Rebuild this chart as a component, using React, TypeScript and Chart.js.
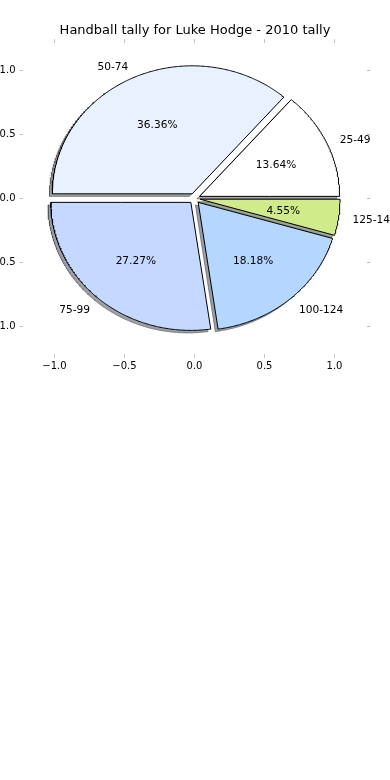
import React, { useEffect, useRef } from 'react';
import { Chart, registerables } from 'chart.js';

Chart.register(...registerables);

const title = 'Handball tally for Luke Hodge - 2010 tally';
const categories = ['25-49', '50-74', '75-99', '100-124', '125-149'];
const tallies = [3, 8, 6, 4, 1];
const sliceColors = ['#ffffff', '#eaf1fe', '#c5d8ff', '#b4d6ff', '#d0eb8a'];
const explode = [0.04, 0.04, 0.04, 0.04, 0.04];
const xTicks = [-1, -0.5, 0, 0.5, 1];
const yTicks = [-1, -0.5, 0, 0.5, 1];

const FONT = '"DejaVu Sans", sans-serif';
const total = tallies.reduce((a, b) => a + b, 0);

type Slice = { t1: number; t2: number; mid: number; cx: number; cy: number; frac: number };

function buildSlices(): Slice[] {
  let start = 0;
  return tallies.map((v, i) => {
    const sweep = (v / total) * 360;
    const t1 = start;
    const t2 = start + sweep;
    start = t2;
    const mid = ((t1 + t2) / 2) * Math.PI / 180;
    return { t1, t2, mid, cx: explode[i] * Math.cos(mid), cy: explode[i] * Math.sin(mid), frac: v / total };
  });
}

function wedgePoints(s: Slice, dx: number, dy: number) {
  const cx = s.cx + dx;
  const cy = s.cy + dy;
  const a1 = (s.t1 * Math.PI) / 180;
  const startPt = { x: cx + 0.5 * Math.cos(a1), y: cy + 0.5 * Math.sin(a1) };
  const pts = [startPt];
  const n = Math.max(2, Math.ceil((s.t2 - s.t1) / 0.5));
  for (let k = 0; k <= n; k++) {
    const a = ((s.t1 + ((s.t2 - s.t1) * k) / n) * Math.PI) / 180;
    pts.push({ x: cx + Math.cos(a), y: cy + Math.sin(a) });
  }
  pts.push({ x: cx, y: cy });
  pts.push({ ...startPt });
  return pts;
}

function hexToRgb(h: string) {
  const n = parseInt(h.slice(1), 16);
  return [(n >> 16) & 255, (n >> 8) & 255, n & 255];
}

function shadowColor(h: string) {
  const [r, g, b] = hexToRgb(h);
  return `rgba(${Math.round(r * 0.3)},${Math.round(g * 0.3)},${Math.round(b * 0.3)},0.5)`;
}

const fmt = (v: number) => {
  const s = Math.abs(v).toFixed(1);
  return v < 0 ? '\u2212' + s : s;
};

export default function App() {
  const ref = useRef<HTMLCanvasElement | null>(null);

  useEffect(() => {
    if (!ref.current) return;
    const slices = buildSlices();

    const shadowSets = slices.map((s, i) => ({
      data: wedgePoints(s, -0.02, -0.02),
      borderColor: shadowColor(sliceColors[i]),
      backgroundColor: shadowColor(sliceColors[i]),
      borderWidth: 1,
      fill: 'shape',
      pointRadius: 0,
      tension: 0,
      order: 1,
    }));
    const wedgeSets = slices.map((s, i) => ({
      label: categories[i],
      data: wedgePoints(s, 0, 0),
      borderColor: '#000000',
      backgroundColor: sliceColors[i],
      borderWidth: 1,
      fill: 'shape',
      pointRadius: 0,
      tension: 0,
      order: 0,
    }));

    const labelPlugin = {
      id: 'pieLabels',
      afterDatasetsDraw(chart: any) {
        const { ctx } = chart;
        const xs = chart.scales.x;
        const ys = chart.scales.y;
        ctx.save();
        ctx.font = `10.6px ${FONT}`;
        ctx.fillStyle = '#000000';
        ctx.textBaseline = 'middle';
        slices.forEach((s, i) => {
          const lx = s.cx + 1.1 * Math.cos(s.mid);
          const ly = s.cy + 1.1 * Math.sin(s.mid);
          const up = ly > 0 ? 2 : 1;
          ctx.textAlign = lx > 0 ? 'left' : 'right';
          ctx.fillText(categories[i], xs.getPixelForValue(lx), ys.getPixelForValue(ly) + up);
          const px = s.cx + 0.6 * Math.cos(s.mid);
          const py = s.cy + 0.6 * Math.sin(s.mid);
          ctx.textAlign = 'center';
          ctx.fillText((s.frac * 100).toFixed(2) + '%', xs.getPixelForValue(px), ys.getPixelForValue(py) + 1);
        });
        ctx.restore();
      },
    };

    const gridOpts = {
      drawOnChartArea: false,
      drawTicks: true,
      tickLength: 3.5,
      tickWidth: 1,
      color: '#c4c4c4',
    };
    const XMIN = -1.225, XMAX = 1.232, YMIN = -1.217, YMAX = 1.217;

    const chart = new Chart(ref.current, {
      type: 'line',
      data: { datasets: [...wedgeSets, ...shadowSets] as any },
      options: {
        animation: false,
        responsive: false,
        devicePixelRatio: 1,
        layout: { padding: 0 },
        plugins: {
          legend: { display: false },
          tooltip: { enabled: false },
          title: {
            display: true,
            text: title,
            color: '#000000',
            font: { family: FONT, size: 13, weight: 'normal' },
            padding: { top: 23, bottom: 0 },
          },
        },
        scales: {
          x: {
            type: 'linear',
            position: 'bottom',
            min: XMIN,
            max: XMAX,
            grid: gridOpts,
            border: { display: false },
            afterBuildTicks: (s: any) => { s.ticks = xTicks.map((v) => ({ value: v })); },
            afterFit: (s: any) => { s.height = 780 - 354.3; },
            ticks: {
              color: '#000000',
              font: { family: FONT, size: 10 },
              padding: 3,
              maxRotation: 0,
              autoSkip: false,
              callback: (v: any) => fmt(Number(v)),
            },
          },
          x2: {
            type: 'linear',
            position: 'top',
            min: XMIN,
            max: XMAX,
            grid: gridOpts,
            border: { display: false },
            afterBuildTicks: (s: any) => { s.ticks = xTicks.map((v) => ({ value: v })); },
            afterFit: (s: any) => { s.height = 42.7 - 38.6; },
            ticks: { display: false },
          },
          y: {
            type: 'linear',
            position: 'left',
            min: YMIN,
            max: YMAX,
            grid: gridOpts,
            border: { display: false },
            afterBuildTicks: (s: any) => { s.ticks = yTicks.map((v) => ({ value: v })); },
            afterFit: (s: any) => { s.width = 23; },
            ticks: {
              color: '#000000',
              font: { family: FONT, size: 10 },
              padding: 4,
              autoSkip: false,
              callback: (v: any) => fmt(Number(v)),
            },
          },
          y2: {
            type: 'linear',
            position: 'right',
            min: YMIN,
            max: YMAX,
            grid: gridOpts,
            border: { display: false },
            afterBuildTicks: (s: any) => { s.ticks = yTicks.map((v) => ({ value: v })); },
            afterFit: (s: any) => { s.width = 23; },
            ticks: { display: false },
          },
        },
      } as any,
      plugins: [labelPlugin],
    });

    return () => chart.destroy();
  }, []);

  return (
    <div style={{ position: 'absolute', left: 0, top: 0, width: 390, height: 780, background: '#ffffff' }}>
      <canvas ref={ref} width={390} height={780} style={{ width: 390, height: 780, display: 'block' }} />
    </div>
  );
}
